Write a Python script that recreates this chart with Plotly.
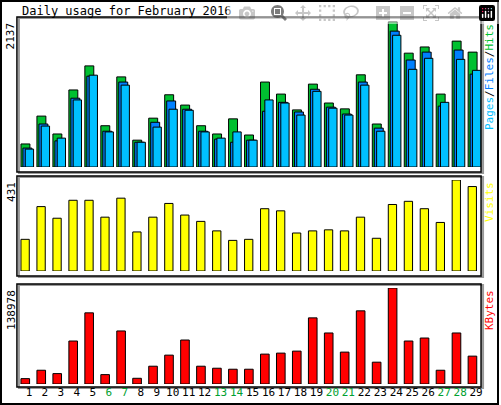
import plotly.graph_objects as go

days = list(range(1, 30))
hits = [335,740,480,1120,1470,600,1310,390,710,1050,900,600,480,700,465,1235,1060,830,1205,930,845,1340,625,2110,1655,1745,1060,1830,1670]
files = [275,625,380,1000,1320,520,1235,360,650,960,840,520,405,360,390,810,940,800,1130,870,770,1235,565,1975,1555,1670,885,1700,1350]
pages = [260,595,420,975,1335,510,1190,360,580,840,825,510,420,510,390,975,930,755,1100,855,755,1190,520,1915,1420,1580,940,1565,1405]
visits = [150,305,250,335,335,255,345,185,255,320,265,235,190,145,150,295,285,180,190,195,190,255,155,315,330,295,230,431,400]
kbytes = [7780,19920,15060,62200,103020,13600,76780,8260,25750,41790,63660,25750,22840,21380,21380,43250,44700,47620,95730,73860,46160,105930,31590,138978,62200,66570,19920,73860,40330]
weekend = {6,7,13,14,20,21,27,28}
ticktext = [f"<span style='color:#00A030'>{d}</span>" if d in weekend else str(d) for d in days]

W, H = 501, 405
def py(p): return (H - p) / H
def px(p): return p / W

fig = go.Figure()
ln = dict(color="black", width=1)
fig.add_bar(x=days, y=hits, offset=-0.5, width=0.56, marker=dict(color="#00C030", line=ln), xaxis="x", yaxis="y")
fig.add_bar(x=days, y=files, offset=-0.375, width=0.56, marker=dict(color="#0080FF", line=ln), xaxis="x", yaxis="y")
fig.add_bar(x=days, y=pages, offset=-0.23, width=0.52, marker=dict(color="#00C0FF", line=ln), xaxis="x", yaxis="y")
fig.add_bar(x=days, y=visits, offset=-0.5, width=0.52, marker=dict(color="#FFFF00", line=ln), xaxis="x2", yaxis="y2")
fig.add_bar(x=days, y=kbytes, offset=-0.5, width=0.54, marker=dict(color="#FF0000", line=ln), xaxis="x3", yaxis="y3")

xr = [0.31, 29.31]
xd = [px(18), px(483)]
common = dict(range=xr, domain=xd, showgrid=False, zeroline=False, showline=False, ticks="", fixedrange=True)
fig.update_layout(
    width=W, height=H, margin=dict(l=0, r=0, t=0, b=0), showlegend=False, barmode="overlay",
    plot_bgcolor="rgba(0,0,0,0)", paper_bgcolor="white",
    font=dict(family="DejaVu Sans Mono", size=11, color="black"),
    xaxis=dict(**common, anchor="y", showticklabels=False),
    xaxis2=dict(**common, anchor="y2", showticklabels=False),
    xaxis3=dict(**common, anchor="y3", tickvals=days, ticktext=ticktext, tickfont=dict(size=11)),
    yaxis=dict(domain=[py(167), py(20)], range=[0, 2137], visible=False),
    yaxis2=dict(domain=[py(271), py(180)], range=[0, 431], visible=False),
    yaxis3=dict(domain=[py(384), py(288)], range=[0, 138978], visible=False),
)

shapes = [dict(type="rect", xref="paper", yref="paper", x0=px(1), x1=px(500), y0=py(404), y1=py(1), line=dict(color="black", width=2))]
for top, bot in [(17, 172), (176, 276), (284, 387)]:
    shapes.append(dict(type="rect", xref="paper", yref="paper", x0=px(19), x1=px(485), y0=py(bot+1), y1=py(top+1), line=dict(color="#999999", width=2), layer="below"))
    shapes.append(dict(type="rect", xref="paper", yref="paper", x0=px(17), x1=px(483), y0=py(bot), y1=py(top), line=dict(color="black", width=1.5), layer="below"))
fig.update_layout(shapes=shapes)

ann = [
    dict(text="Daily usage for February 2016", x=px(20), y=py(11), xanchor="left", yanchor="middle", font=dict(size=12)),
    dict(text="2137", x=px(11), y=py(20), textangle=-90, xanchor="center", yanchor="top"),
    dict(text="431", x=px(11), y=py(180), textangle=-90, xanchor="center", yanchor="top"),
    dict(text="138978", x=px(11), y=py(288), textangle=-90, xanchor="center", yanchor="top"),
    dict(text="<span style='color:#00C0FF'>Pages</span>/<span style='color:#0080FF'>Files</span>/<span style='color:#00C030'>Hits</span>",
         x=px(491), y=py(22), textangle=-90, xanchor="center", yanchor="top"),
    dict(text="<span style='color:#FFFF00'>Visits</span>", x=px(491), y=py(180), textangle=-90, xanchor="center", yanchor="top"),
    dict(text="<span style='color:#FF0000'>KBytes</span>", x=px(491), y=py(288), textangle=-90, xanchor="center", yanchor="top"),
]
for a in ann:
    a.update(xref="paper", yref="paper", showarrow=False)
fig.update_layout(annotations=ann)
fig.write_html("out.html", post_script="document.body.style.margin='0';document.body.style.overflow='hidden';")
